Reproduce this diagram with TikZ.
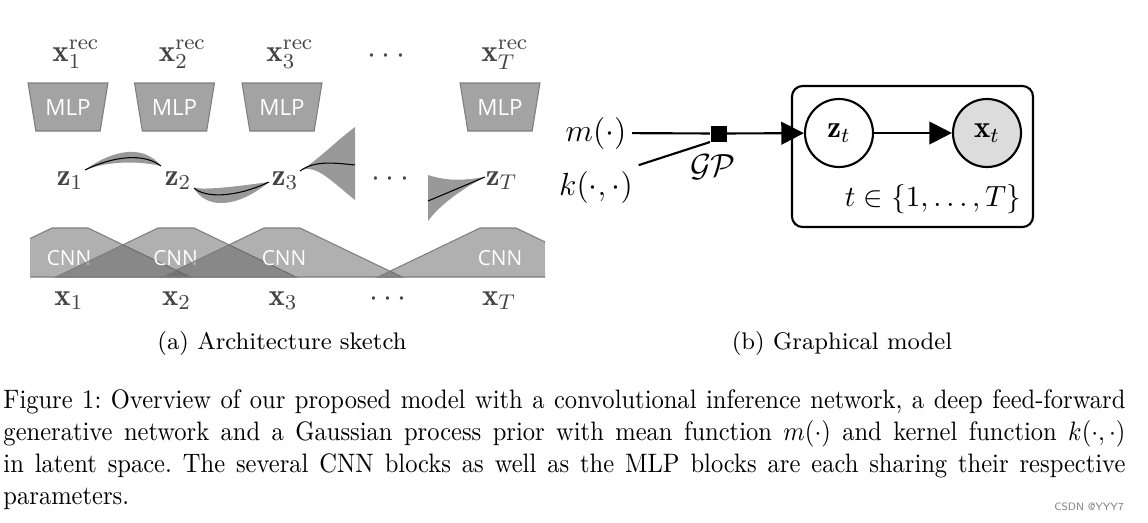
\documentclass[tikz,border=0pt]{standalone}
\usepackage{amsmath,amssymb}
\usepackage{fontspec}
\usepackage{xcolor}
\usepackage{tikz}
\usetikzlibrary{shapes,arrows.meta,positioning,calc}
\newfontfamily\blockfont{Open Sans}
\definecolor{blockgray}{HTML}{A3A3A3}
\definecolor{edgegray}{HTML}{7F7F7F}
\definecolor{bandgray}{HTML}{999999}
\definecolor{labelgray}{HTML}{444444}
\definecolor{obsgray}{HTML}{DCDCDC}

\begin{document}
\begin{tikzpicture}[
    x=0.375pt, y=-0.375pt,
    lbl/.style={font=\fontsize{11.6}{14}\selectfont, text=labelgray, anchor=base, inner sep=0pt},
    mlp/.style={trapezium, shape border rotate=180, trapezium angle=71, trapezium stretches=true, draw=edgegray, fill=blockgray, minimum width=30pt, minimum height=18pt, inner sep=0pt, font=\blockfont\fontsize{8.4}{10}\selectfont, text=white},
    cnn/.style={draw=edgegray, fill=black!62, fill opacity=0.5},
    cnntext/.style={font=\blockfont\fontsize{7.8}{10}\selectfont, text=white},
    band/.style={fill=bandgray, draw=none},
    mean/.style={draw=black, line width=0.4pt},
    math/.style={font=\fontsize{11.6}{14}\selectfont, inner sep=2pt},
    latent/.style={circle, draw, fill=white, line width=0.8pt, minimum size=25.5pt, inner sep=0pt, font=\fontsize{11.6}{14}\selectfont},
    obs/.style={latent, fill=obsgray},
    factor/.style={rectangle, fill=black, minimum size=6pt, inner sep=0pt},
    plate/.style={rectangle, draw, rounded corners=4pt, line width=0.8pt, minimum width=90.4pt, minimum height=52.9pt},
    edge/.style={line width=0.8pt},
    arrow/.style={-{Triangle[length=8.5pt,width=8.5pt]}, line width=0.8pt},
    captext/.style={inner sep=0pt}
]
\useasboundingbox (0,0) rectangle (1148,522);

% Decoder (MLP) layer
\node[lbl] (xrec1) at (76,61) {$\mathbf{x}_1^{\mathrm{rec}}$};
\node[lbl] (xrec2) at (182.5,61) {$\mathbf{x}_2^{\mathrm{rec}}$};
\node[lbl] (xrec3) at (290,61) {$\mathbf{x}_3^{\mathrm{rec}}$};
\node[lbl] (xrecdots) at (389,63) {$\cdots$};
\node[lbl] (xrecT) at (505,61) {$\mathbf{x}_T^{\mathrm{rec}}$};
\node[mlp] (mlp1) at (68,107) {MLP};
\node[mlp] (mlp2) at (174.5,107) {MLP};
\node[mlp] (mlp3) at (282,107) {MLP};
\node[mlp] (mlpT) at (500,107) {MLP};

% Latent layer
\node[lbl] (z1) at (70,185) {$\mathbf{z}_1$};
\node[lbl] (z2) at (178,185) {$\mathbf{z}_2$};
\node[lbl] (z3) at (285,185) {$\mathbf{z}_3$};
\node[lbl] (zdots) at (393,186) {$\cdots$};
\node[lbl] (zT) at (501.5,185) {$\mathbf{z}_T$};
\fill[band] (85,170) .. controls (105,155) and (140,140) .. (161,166)
    .. controls (135,160) and (105,162) .. (85,170);
\draw[mean] (85,170) .. controls (105,160) and (140,150) .. (161,166);
\fill[band] (194,188) .. controls (205,208) and (235,210) .. (269,182)
    .. controls (240,186) and (210,190) .. (194,188);
\draw[mean] (194,188) .. controls (205,198) and (235,198) .. (269,182);
\fill[band] (300,171) .. controls (318,160) and (335,142) .. (355,127)
    -- (355,200) .. controls (330,180) and (315,163) .. (300,171);
\draw[mean] (300,171) .. controls (315,160) and (335,163) .. (355,165);
\fill[band] (428,175) .. controls (450,182) and (465,180) .. (485,177)
    .. controls (460,190) and (440,205) .. (428,221) -- cycle;
\draw[mean] (428,201) -- (485,177);

% Encoder (CNN) layer
\begin{scope}
\clip (30,200) rectangle (545,280);
\draw[cnn] (-50,277) -- (52,228) -- (88,228) -- (190,277) -- cycle;
\node[cnntext] (cnn1) at (69,258) {CNN};
\draw[cnn] (56,277) -- (158,228) -- (194,228) -- (296,277) -- cycle;
\node[cnntext] (cnn2) at (175.5,258) {CNN};
\draw[cnn] (162,277) -- (264,228) -- (300,228) -- (402,277) -- cycle;
\node[cnntext] (cnn3) at (284,258) {CNN};
\draw[cnn] (378,277) -- (480,228) -- (516,228) -- (618,277) -- cycle;
\node[cnntext] (cnnT) at (500,258) {CNN};
\end{scope}
\node[lbl] (x1) at (69,305) {$\mathbf{x}_1$};
\node[lbl] (x2) at (176.5,305) {$\mathbf{x}_2$};
\node[lbl] (x3) at (283,305) {$\mathbf{x}_3$};
\node[lbl] (xdots) at (390.5,306) {$\cdots$};
\node[lbl] (xT) at (499,305) {$\mathbf{x}_T$};

% Graphical model
\node[plate] (plate) at (912.5,156.5) {};
\node[math] (m) at (596,133) {$m(\cdot)$};
\node[math] (k) at (596,187) {$k(\cdot,\cdot)$};
\node[factor] (gp) at (718.5,133.5) {};
\node[math] (gplabel) at (713,167) {$\mathcal{GP}$};
\node[latent] (zt) at (839,133) {$\mathbf{z}_t$};
\node[obs] (xt) at (987,133) {$\mathbf{x}_t$};
\node[math, font=\fontsize{10.6}{13}\selectfont] (range) at (933,199) {$t \in \{1, \ldots, T\}$};
\draw[edge] (m) -- (gp);
\draw[edge] (k.north east) -- (gp.south west);
\draw[arrow] (gp) -- (zt);
\draw[arrow] (zt) -- (xt);

% Captions
\node[captext, font=\small] (capa) at (282,343) {(a) Architecture sketch};
\node[captext, font=\small] (capb) at (842,343) {(b) Graphical model};
\begin{scope}[shift={(3,389)}, xscale=0.92, transform shape]
\node[captext, anchor=north west, text width=457.3pt, align=justify, font=\frenchspacing] (caption) at (0,0)
    {Figure 1: Overview of our proposed model with a convolutional inference network, a deep feed-forward\linebreak
    generative network and a Gaussian process prior with mean function $m(\cdot)$ and kernel function $k(\cdot,\cdot)$\linebreak
    in latent space. The several CNN blocks as well as the MLP blocks are each sharing their respective\linebreak
    parameters.};
\end{scope}
\node[captext, font=\sffamily\fontsize{4}{5}\selectfont, text=gray] (mark) at (1089,507) {CSDN @YYY7};

\end{tikzpicture}
\end{document}
